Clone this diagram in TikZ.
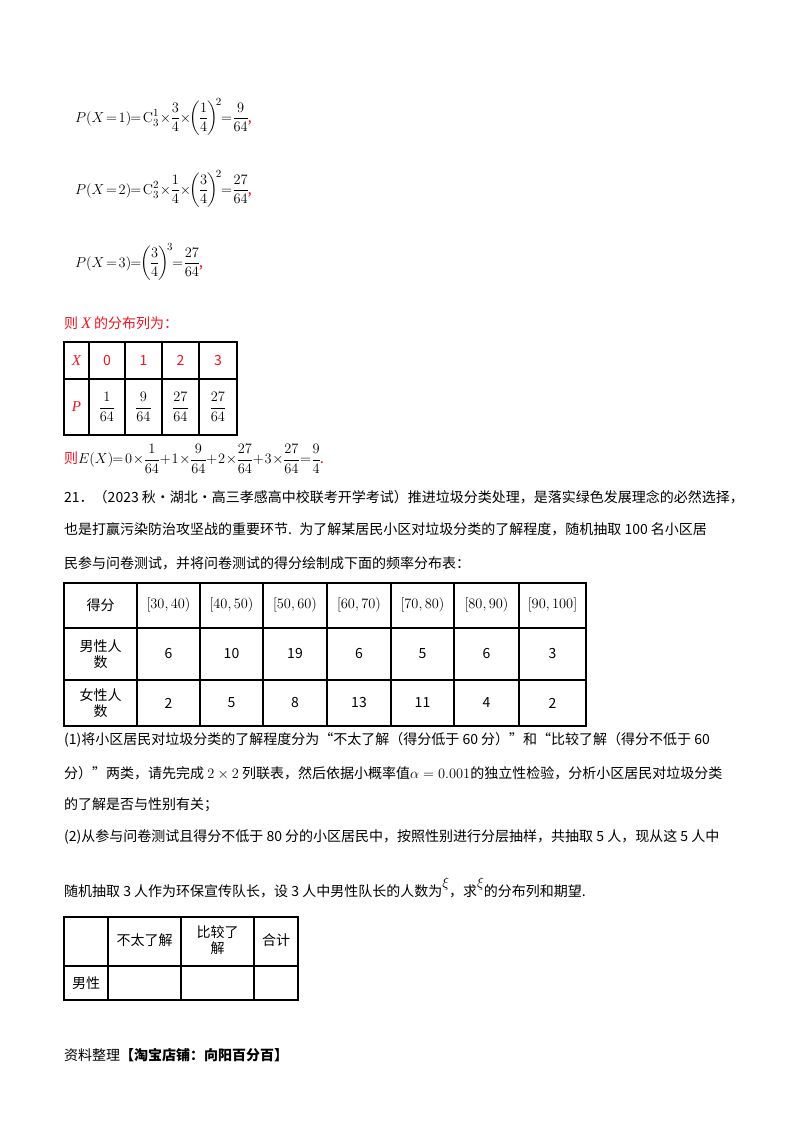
\documentclass[tikz,border=0pt]{standalone}
\usepackage{amsmath}
\usepackage[no-math]{fontspec}
\setmainfont{Noto Sans CJK SC}
\newfontfamily\serif{Liberation Serif}
\definecolor{rd}{RGB}{240,20,30}
\newcommand{\tightmath}{\medmuskip=1mu \thickmuskip=2mu \nulldelimiterspace=0pt }
\begin{document}
\begin{tikzpicture}[x=1pt,y=-1pt,
  t/.style={anchor=west,inner sep=0pt,font=\fontsize{14}{16}\selectfont},
  mth/.style={anchor=west,inner sep=0pt,font=\fontsize{15}{18}\selectfont},
  c/.style={inner sep=0pt,font=\fontsize{14}{16}\selectfont,align=center},
  cmth/.style={inner sep=0pt,font=\fontsize{15}{18}\selectfont,align=center},
  grid/.style={line width=1.1pt}]
\useasboundingbox (0,0) rectangle (800,1132);
\fill[white] (0,0) rectangle (800,1132);
% formulas
\node[mth] (f1) at (75,117) {\tightmath$P\!\left(X=1\right)\!=\mathrm{C}_3^1\times\dfrac34\times\!\left(\dfrac14\right)^{\!2}\!=\dfrac{9}{64}$\textcolor{rd}{,}};
\node[mth] (f2) at (75,189) {\tightmath$P\!\left(X=2\right)\!=\mathrm{C}_3^2\times\dfrac14\times\!\left(\dfrac34\right)^{\!2}\!=\dfrac{27}{64}$\textcolor{rd}{,}};
\node[mth] (f3) at (75,262) {\tightmath$P\!\left(X=3\right)\!=\!\left(\dfrac34\right)^{\!3}\!=\dfrac{27}{64}$\textcolor{rd}{,}};
\node[t,text=rd] (l1) at (64,323) {则 {\serif\itshape\fontsize{16}{18}\selectfont X} 的分布列为：};
% table 1
\draw[grid] (64,342) rectangle (237,435);
\draw[grid] (64,379) -- (237,379);
\foreach \x in {89,125,162,199} \draw[grid] (\x,342) -- (\x,435);
\node[cmth,text=rd] (a0) at (76.5,360.5) {\serif\itshape X};
\node[c,text=rd] (a1) at (107,360.5) {0};
\node[c,text=rd] (a2) at (143.5,360.5) {1};
\node[c,text=rd] (a3) at (180.5,360.5) {2};
\node[c,text=rd] (a4) at (218,360.5) {3};
\node[cmth,text=rd] (b0) at (76.5,407) {\serif\itshape P};
\node[cmth] (b1) at (107,407) {$\dfrac{1}{64}$};
\node[cmth] (b2) at (143.5,407) {$\dfrac{9}{64}$};
\node[cmth] (b3) at (180.5,407) {$\dfrac{27}{64}$};
\node[cmth] (b4) at (218,407) {$\dfrac{27}{64}$};
\node[mth] (ex) at (64,459) {\tightmath\textcolor{rd}{\fontsize{14}{16}\selectfont 则}$E\!\left(X\right)\!=0\times\dfrac{1}{64}+1\times\dfrac{9}{64}+2\times\dfrac{27}{64}+3\times\dfrac{27}{64}=\dfrac94$\textcolor{rd}{.}};
% problem 21
\node[t] (p1) at (64,497) {21．（2023 秋·湖北·高三孝感高中校联考开学考试）推进垃圾分类处理，是落实绿色发展理念的必然选择，};
\node[t] (p2) at (64,529) {也是打赢污染防治攻坚战的重要环节. \ 为了解某居民小区对垃圾分类的了解程度，随机抽取 100 名小区居};
\node[t] (p3) at (64,563) {民参与问卷测试，并将问卷测试的得分绘制成下面的频率分布表：};
% table 2
\draw[grid] (64,583) rectangle (586,726);
\draw[grid] (64,628) -- (586,628);
\draw[grid] (64,680) -- (586,680);
\foreach \x in {137,200,263,327,391,454,519} \draw[grid] (\x,583) -- (\x,726);
\node[c] (h0) at (100.5,605) {得分};
\node[cmth] (h1) at (168.5,605) {$[30,40)$};
\node[cmth] (h2) at (231.5,605) {$[40,50)$};
\node[cmth] (h3) at (295,605) {$[50,60)$};
\node[cmth] (h4) at (359,605) {$[60,70)$};
\node[cmth] (h5) at (422.5,605) {$[70,80)$};
\node[cmth] (h6) at (486.5,605) {$[80,90)$};
\node[cmth] (h7) at (552.5,605) {$[90,100]$};
\node[c] (m0) at (100.5,654) {男性人\\数};
\node[c] (m1) at (168.5,654) {6};
\node[c] (m2) at (231.5,654) {10};
\node[c] (m3) at (295,654) {19};
\node[c] (m4) at (359,654) {6};
\node[c] (m5) at (422.5,654) {5};
\node[c] (m6) at (486.5,654) {6};
\node[c] (m7) at (552.5,654) {3};
\node[c] (w0) at (100.5,703) {女性人\\数};
\node[c] (w1) at (168.5,703) {2};
\node[c] (w2) at (231.5,703) {5};
\node[c] (w3) at (295,703) {8};
\node[c] (w4) at (359,703) {13};
\node[c] (w5) at (422.5,703) {11};
\node[c] (w6) at (486.5,703) {4};
\node[c] (w7) at (552.5,703) {2};
% questions
\node[t] (q1) at (64,740) {(1)将小区居民对垃圾分类的了解程度分为“不太了解（得分低于 60 分）”和“比较了解（得分不低于 60};
\node[t] (q2) at (64,773) {分）”两类，请先完成 $2\times2$ 列联表，然后依据小概率值$\alpha=0.001$的独立性检验，分析小区居民对垃圾分类};
\node[t] (q3) at (64,805) {的了解是否与性别有关；};
\node[t] (q4) at (64,837) {(2)从参与问卷测试且得分不低于 80 分的小区居民中，按照性别进行分层抽样，共抽取 5 人，现从这 5 人中};
\node[t] (q5) at (64,888) {随机抽取 3 人作为环保宣传队长，设 3 人中男性队长的人数为\raisebox{9pt}{$\xi$}，求\raisebox{9pt}{$\xi$}的分布列和期望.};
% table 3
\draw[grid] (64,917) rectangle (298,1000);
\draw[grid] (64,966) -- (298,966);
\foreach \x in {108,181,254} \draw[grid] (\x,917) -- (\x,1000);
\node[c] (k1) at (144.5,940) {不太了解};
\node[c] (k2) at (217.5,940) {比较了\\解};
\node[c] (k3) at (276,940) {合计};
\node[c] (k4) at (86,983) {男性};
% footer
\node[t] (ft) at (64,1055) {资料整理{\bfseries【淘宝店铺：向阳百分百】}};
\end{tikzpicture}
\end{document}
